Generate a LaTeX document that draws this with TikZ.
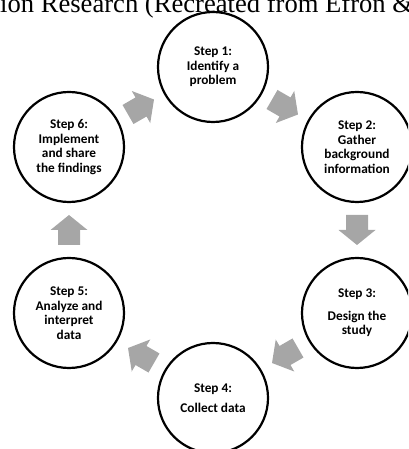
\documentclass[tikz,border=0pt]{standalone}
\usepackage{fontspec}
\setmainfont{Liberation Serif}
\newfontfamily\calibri{Carlito}
\usetikzlibrary{calc}
\definecolor{arrowgray}{RGB}{166,166,166}
\tikzset{
  stepcircle/.style={circle, draw=black, line width=2.2pt, fill=white, minimum size=110pt,
    inner sep=0pt, align=center, font=\calibri\bfseries\fontsize{13.3}{14.6}\selectfont},
  blockarrow/.pic={\fill[arrowgray] (-15,-11) -- (0,-11) -- (0,-18.5) -- (15,0) -- (0,18.5) -- (0,11) -- (-15,11) -- cycle;},
  titletext/.style={font=\fontsize{26.6}{30}\selectfont, anchor=base west, inner sep=0pt}
}
\begin{document}
\begin{tikzpicture}[x=1pt,y=1pt]
\useasboundingbox (0,0) rectangle (408,449);
\clip (0,0) rectangle (408,449);
\node[titletext] (title) at (0,436.5) {ion Research (Recreated from Efron \&};
\node[stepcircle] (s1) at (213,382) {Step 1:\\Identify a\\problem};
\node[stepcircle] (s2) at (357,302) {Step 2:\\Gather\\background\\information};
\node[stepcircle] (s3) at (357,136) {Step 3:\\[8pt]Design the\\study};
\node[stepcircle] (s4) at (213,51) {Step 4:\\[6pt]Collect data};
\node[stepcircle] (s5) at (69,136) {Step 5:\\Analyze and\\interpret\\data};
\node[stepcircle] (s6) at (69,302) {Step 6:\\Implement\\and share\\the findings};
\path ($(s6)!0.5!(s1)$) pic[rotate=30] {blockarrow};
\path ($(s1)!0.5!(s2)$) pic[rotate=-30] {blockarrow};
\path ($(s2)!0.5!(s3)$) pic[rotate=-90] {blockarrow};
\path ($(s3)!0.5!(s4)$) pic[rotate=-150] {blockarrow};
\path ($(s4)!0.5!(s5)$) pic[rotate=150] {blockarrow};
\path ($(s5)!0.5!(s6)$) pic[rotate=90] {blockarrow};
\end{tikzpicture}
\end{document}
